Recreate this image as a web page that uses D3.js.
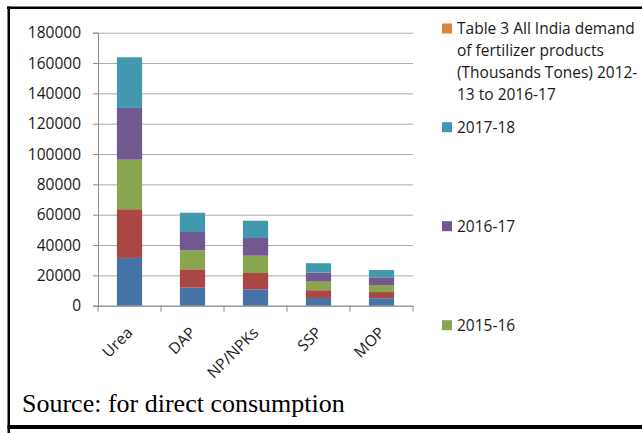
<!DOCTYPE html>
<html>
<head>
<meta charset="utf-8">
<script src="https://cdn.jsdelivr.net/npm/d3@7"></script>
<style>
  body { margin: 0; background: #fff; }
  svg { display: block; }
  .axis text { font-family: "Open Sans", sans-serif; font-size: 15.5px; fill: #1a1a1a; }
  .legend text { font-family: "Open Sans", sans-serif; font-size: 15.5px; fill: #1a1a1a; }
</style>
</head>
<body>
<svg id="chart" width="642" height="433"></svg>
<script>
// fertilizer products (x axis)
var categories = ["Urea", "DAP", "NP/NPKs", "SSP", "MOP"];

// stacked series, bottom to top
var seriesNames = ["2013-14", "2014-15", "2015-16", "2016-17", "2017-18",
  "Table 3 All India demand of fertilizer products (Thousands Tones) 2012-13 to 2016-17"];
var v2013 = [31500, 11900, 10800, 5100, 4900];
var v2014 = [32100, 12100, 10750, 5100, 4100];
var v2015 = [32700, 12500, 11400, 5700, 4600];
var v2016 = [34100, 12100, 11700, 5900, 5100];
var v2017 = [33400, 12700, 11400, 6200, 4800];
var vTitle = [0, 0, 0, 0, 0];
var colors = ["#4572A7", "#AA4643", "#89A54E", "#71588F", "#4198AF", "#DB843D"];

var yTicks = [0, 20000, 40000, 60000, 80000, 100000, 120000, 140000, 160000, 180000];

// legend title wraps like Excel did it
var titleLines = ["Table 3 All India demand", "of fertilizer products",
  "(Thousands Tones) 2012-", "13 to 2016-17"];

function drawChart() {
  var svg = d3.select("#chart");

  // plot area
  var left = 98, right = 413, plotTop = 32.7, bottom = 305.7;

  var x = d3.scaleBand().domain(categories).range([left, right])
    .paddingInner(0.6).paddingOuter(0.3);
  var y = d3.scaleLinear().domain([0, 180000]).range([bottom, plotTop]);

  // build table for stacking
  var allValues = [v2013, v2014, v2015, v2016, v2017, vTitle];
  var table = categories.map(function (c, i) {
    var row = { cat: c };
    seriesNames.forEach(function (s, k) { row[s] = allValues[k][i]; });
    return row;
  });
  var stacked = d3.stack().keys(seriesNames)(table);

  // gridlines
  svg.append("g")
    .attr("transform", "translate(" + left + ",0)")
    .call(d3.axisLeft(y).tickValues(yTicks).tickSize(-(right - left)).tickFormat(""))
    .call(function (g) {
      g.select(".domain").remove();
      g.selectAll("line").attr("stroke", "#ababab");
    });

  // bars
  svg.append("g").selectAll("g")
    .data(stacked)
    .enter().append("g")
      .attr("fill", function (d, i) { return colors[i]; })
    .selectAll("rect")
    .data(function (d) { return d.filter(function (p) { return p[1] > p[0]; }); })
    .enter().append("rect")
      .attr("x", function (d) { return x(d.data.cat); })
      .attr("y", function (d) { return y(d[1]); })
      .attr("width", x.bandwidth())
      .attr("height", function (d) { return y(d[0]) - y(d[1]); });

  // y axis
  svg.append("g")
    .attr("class", "axis")
    .attr("transform", "translate(" + left + ",0)")
    .call(d3.axisLeft(y).tickValues(yTicks).tickSize(5).tickPadding(12).tickFormat(d3.format("d")))
    .call(function (g) {
      g.select(".domain").attr("stroke", "#8c8c8c");
      g.selectAll("line").attr("stroke", "#8c8c8c");
    });

  // x axis: boundary ticks between categories
  var step = x.step();
  svg.append("g").selectAll("line")
    .data(d3.range(categories.length + 1))
    .enter().append("line")
      .attr("x1", function (i) { return left + i * step; })
      .attr("x2", function (i) { return left + i * step; })
      .attr("y1", bottom)
      .attr("y2", bottom + 6)
      .attr("stroke", "#8c8c8c");

  svg.append("g")
    .attr("class", "axis")
    .attr("transform", "translate(0," + bottom + ")")
    .call(d3.axisBottom(x).tickSize(0))
    .call(function (g) {
      g.select(".domain").attr("stroke", "#8c8c8c").attr("d", "M" + left + ",0.5H" + right);
      g.selectAll("text")
        .attr("x", 0).attr("y", 0).attr("dy", 0)
        .attr("text-anchor", "end")
        .attr("transform", "translate(4,28) rotate(-45)");
    });

  // legend: only the entries that fit inside the chart box are shown (same as original)
  var legend = svg.append("g").attr("class", "legend");
  var legendOrder = d3.range(seriesNames.length).reverse();
  legendOrder.forEach(function (k, j) {
    var base = j === 0 ? 34 : 132.7 + (j - 1) * 99;
    if (base > 400) return;
    var g = legend.append("g");
    g.append("rect")
      .attr("x", 442).attr("y", base - 10.5)
      .attr("width", 10).attr("height", 10)
      .attr("fill", colors[k]);
    var lines = j === 0 ? titleLines : [seriesNames[k]];
    g.selectAll("text").data(lines).enter().append("text")
      .attr("x", 457)
      .attr("y", function (d, n) { return base + n * 22; })
      .text(function (d) { return d; });
  });

  // source note
  svg.append("text")
    .attr("x", 22).attr("y", 412)
    .attr("font-family", "'Liberation Serif', 'Times New Roman', serif")
    .attr("font-size", 26)
    .attr("fill", "#000")
    .text("Source: for direct consumption");

  // table cell borders around the chart
  svg.append("rect").attr("x", 7).attr("y", 6.5).attr("width", 635).attr("height", 2.5).attr("fill", "#000");
  svg.append("rect").attr("x", 7.5).attr("y", 6.5).attr("width", 2.5).attr("height", 426.5).attr("fill", "#000");
  svg.append("rect").attr("x", 7.5).attr("y", 425).attr("width", 635).attr("height", 4).attr("fill", "#000");
}

drawChart();
</script>
</body>
</html>
